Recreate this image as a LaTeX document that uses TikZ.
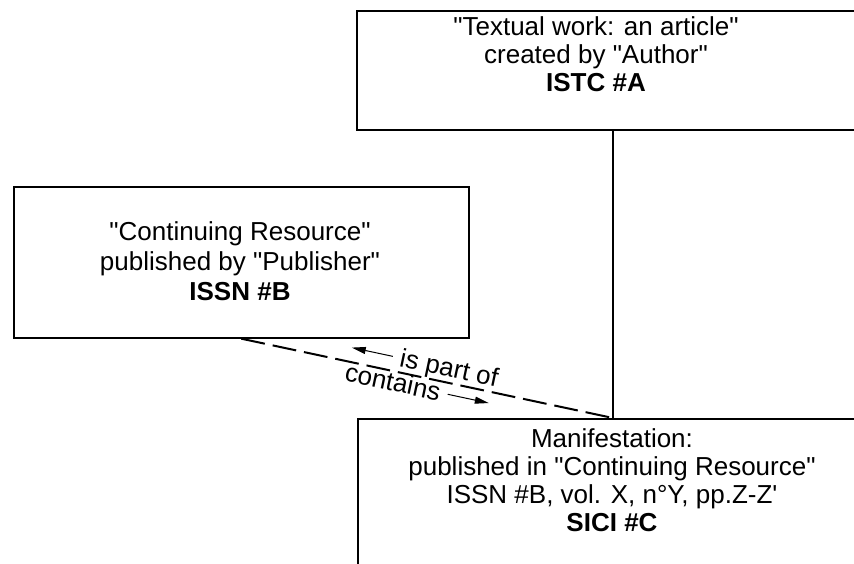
\documentclass[tikz,border=0pt]{standalone}
\usepackage{fontspec}
\setmainfont{Liberation Sans}
\usetikzlibrary{arrows.meta}
\newcommand{\dq}{\textquotedbl}
\begin{document}
\begin{tikzpicture}[x=1pt,y=-1pt,
  box/.style={draw=black,line width=1.7pt,rectangle,inner sep=0pt,anchor=north west},
  txt/.style={align=center,inner sep=0pt,font=\fontsize{26}{28}\selectfont},
  rel/.style={line width=1.7pt},
  partof/.style={line width=2pt,dash pattern=on 24pt off 8pt},
  lbl/.style={sloped,inner sep=0.5pt,font=\fontsize{26}{28}\selectfont},
  tip/.style={line width=1pt,-{Triangle[length=14pt,width=7pt]}}]
\useasboundingbox (0,0) rectangle (854,564);
\clip (0,0) rectangle (854,564);
\fill[white] (0,0) rectangle (854,564);
% boxes
\node[box,minimum width=560pt,minimum height=119pt] (A) at (356,10) {};
\node[box,minimum width=455pt,minimum height=151pt] (B) at (13,186) {};
\node[box,minimum width=560pt,minimum height=200pt] (C) at (357,418) {};
% texts
\node[txt] (At) at (596,54) {\dq Textual work: an article\dq\\created by \dq Author\dq\\\textbf{ISTC \#A}};
\node[txt,font=\fontsize{26}{30}\selectfont] (Bt) at (240,261) {\dq Continuing Resource\dq\\published by \dq Publisher\dq\\\textbf{ISSN \#B}};
\node[txt] (Ct) at (612,480) {Manifestation:\\published in \dq Continuing Resource\dq\\ISSN \#B, vol. X, n°Y, pp.Z-Z\textquotesingle\\\textbf{SICI \#C}};
% connectors
\coordinate (j) at (613,418);
\draw[rel] (A.south -| j) -- (j);
\draw[partof] (B.south) -- (j)
  node[lbl,pos=0.485,above] (l1) {\tikz[baseline=-0.6ex]\draw[tip] (0pt,0pt) -- (-42pt,0pt); is part of}
  node[lbl,pos=0.48,below] (l2) {contains \tikz[baseline=-0.6ex]\draw[tip] (0pt,0pt) -- (42pt,0pt);};
\end{tikzpicture}
\end{document}
